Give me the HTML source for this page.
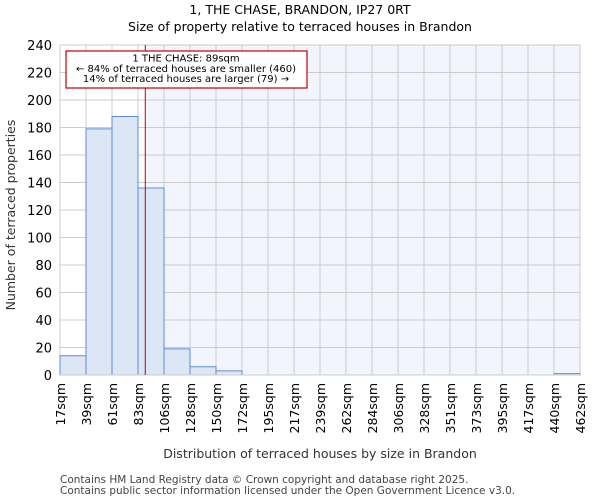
<!DOCTYPE html>
<html><head><meta charset="utf-8"><style>
body{margin:0;background:#fff;font-family:"DejaVu Sans","Liberation Sans",sans-serif;}
</style></head><body>
<svg id="c" width="600" height="500" xmlns="http://www.w3.org/2000/svg" font-family="DejaVu Sans, Liberation Sans, sans-serif">
<text x="300" y="14" text-anchor="middle" font-size="12.5">1, THE CHASE, BRANDON, IP27 0RT</text>
<text x="300" y="31" text-anchor="middle" font-size="12.5">Size of property relative to terraced houses in Brandon</text>
<g id="plot"></g>
<text x="15" y="215" transform="rotate(-90 15 215)" text-anchor="middle" font-size="12.5" fill="#333">Number of terraced properties</text>
<text x="320" y="458" text-anchor="middle" font-size="12.5" fill="#333">Distribution of terraced houses by size in Brandon</text>
<text x="60" y="483" font-size="10.5" fill="#444">Contains HM Land Registry data © Crown copyright and database right 2025.</text>
<text x="60" y="494" font-size="10.5" fill="#444">Contains public sector information licensed under the Open Government Licence v3.0.</text>
</svg>
<script>
const binLabels=["17sqm","39sqm","61sqm","83sqm","106sqm","128sqm","150sqm","172sqm","195sqm","217sqm","239sqm","262sqm","284sqm","306sqm","328sqm","351sqm","373sqm","395sqm","417sqm","440sqm","462sqm"];
const binEdges=[17,39,61,83,106,128,150,172,195,217,239,262,284,306,328,351,373,395,417,440,462];
const counts=[14,179,188,136,19,6,3,0,0,0,0,0,0,0,0,0,0,0,0,1];
const yTicks=[0,20,40,60,80,100,120,140,160,180,200,220,240];
const propertySize=89;
const L=60,R=580,T=45,B=375,yMax=240;
const ns="http://www.w3.org/2000/svg";
const g=document.getElementById('plot');
const xs=i=>L+(R-L)*i/counts.length;
function xv(v){for(let i=0;i<binEdges.length-1;i++){if(v<=binEdges[i+1])return xs(i)+(xs(i+1)-xs(i))*(v-binEdges[i])/(binEdges[i+1]-binEdges[i]);}return R;}
const ys=v=>B-(B-T)*v/yMax;
function mk(t,a){const e=document.createElementNS(ns,t);for(const k in a)e.setAttribute(k,a[k]);g.appendChild(e);return e;}
const px=xv(propertySize)+0.5;
let e=mk('rect',{x:L,y:T,width:px-L,height:B-T,fill:'#fff'});


e=mk('rect',{x:px,y:T,width:R-px,height:B-T,fill:'#f2f5fd'});


yTicks.forEach(v=>{
 const l=mk('line',{x1:L,x2:R,y1:ys(v),y2:ys(v),stroke:'#ccc','stroke-width':1});
 
 
 const t=mk('text',{x:L-8,y:ys(v)+5,'text-anchor':'end','font-size':13});
 t.textContent=v;
 
 
});
binLabels.forEach((s,i)=>{
 const x=xs(i);
 const l=mk('line',{x1:x,x2:x,y1:T,y2:B,stroke:'#ccc','stroke-width':1});
 
 
 const t=mk('text',{x:x+5,y:B+8,'text-anchor':'end','font-size':12.5,transform:`rotate(-90 ${x+5} ${B+8})`});
 t.textContent=s;
 
 
});
counts.forEach((c,i)=>{
 if(c<=0)return;
 const r=mk('rect',{x:xs(i),y:ys(c),width:xs(i+1)-xs(i),height:B-ys(c),fill:'#dce6f4',stroke:'#5b8fd6','stroke-width':1});
 
 
});
e=mk('line',{x1:L,x2:R,y1:B,y2:B,stroke:'#ccc'});


e=mk('line',{x1:px,x2:px,y1:T,y2:B,stroke:'#c00000','stroke-width':1});


e=mk('rect',{x:66,y:51,width:241,height:37,fill:'#fff',stroke:'#c00000','stroke-width':1.2});


["1 THE CHASE: 89sqm","← 84% of terraced houses are smaller (460)","14% of terraced houses are larger (79) →"].forEach((s,i)=>{
 const t=mk('text',{x:186,y:61.5+i*10.3,'text-anchor':'middle','font-size':10});
 t.textContent=s;
 
 
});
</script>
</body></html>
